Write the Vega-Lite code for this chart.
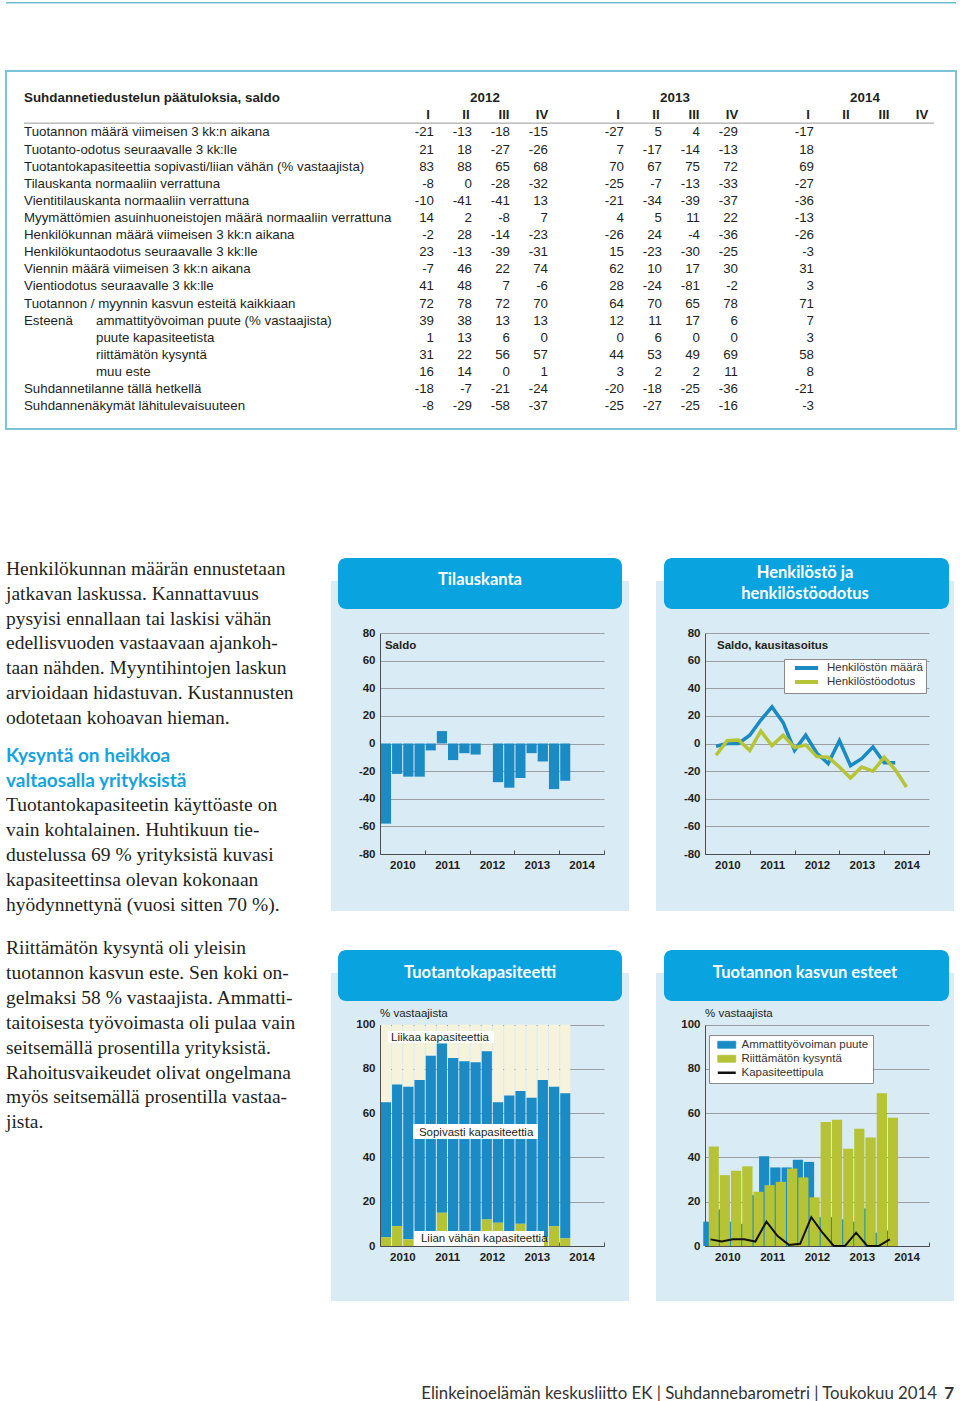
{
"$schema":"https://vega.github.io/schema/vega-lite/v6.json",
"background":"#ffffff",
"padding":{"left":5,"top":2,"right":0,"bottom":0},
"spacing":0,
"resolve":{"scale":{"color":"independent"},"legend":{"color":"independent"}},
"config":{"view":{"stroke":null},"font":"Liberation Sans","text":{"font":"Liberation Sans","color":"#231f20"},
 "axis":{"labelFont":"Liberation Sans","labelFontWeight":"bold","labelFontSize":11.5,"labelColor":"#231f20","domainColor":"#4d4d4d","tickColor":"#4d4d4d","gridColor":"#8c8c8c","gridWidth":0.8}},
"datasets":{
"tilaus":[{"d":"2010-01-01","saldo":-58},{"d":"2010-04-01","saldo":-22},{"d":"2010-07-01","saldo":-24},{"d":"2010-10-01","saldo":-24},{"d":"2011-01-01","saldo":-5},{"d":"2011-04-01","saldo":9},{"d":"2011-07-01","saldo":-12},{"d":"2011-10-01","saldo":-7},{"d":"2012-01-01","saldo":-8},{"d":"2012-04-01","saldo":0},{"d":"2012-07-01","saldo":-28},{"d":"2012-10-01","saldo":-32},{"d":"2013-01-01","saldo":-25},{"d":"2013-04-01","saldo":-7},{"d":"2013-07-01","saldo":-13},{"d":"2013-10-01","saldo":-33},{"d":"2014-01-01","saldo":-27}],
"henk":[{"d":"2010-01-01","s":"Henkilöstön määrä","v":-2},{"d":"2010-04-01","s":"Henkilöstön määrä","v":0},{"d":"2010-07-01","s":"Henkilöstön määrä","v":0},{"d":"2010-10-01","s":"Henkilöstön määrä","v":6},{"d":"2011-01-01","s":"Henkilöstön määrä","v":17},{"d":"2011-04-01","s":"Henkilöstön määrä","v":26.5},{"d":"2011-07-01","s":"Henkilöstön määrä","v":15},{"d":"2011-10-01","s":"Henkilöstön määrä","v":-5},{"d":"2012-01-01","s":"Henkilöstön määrä","v":6},{"d":"2012-04-01","s":"Henkilöstön määrä","v":-7},{"d":"2012-07-01","s":"Henkilöstön määrä","v":-14.5},{"d":"2012-10-01","s":"Henkilöstön määrä","v":2},{"d":"2013-01-01","s":"Henkilöstön määrä","v":-16},{"d":"2013-04-01","s":"Henkilöstön määrä","v":-11},{"d":"2013-07-01","s":"Henkilöstön määrä","v":-2.5},{"d":"2013-10-01","s":"Henkilöstön määrä","v":-14},{"d":"2014-01-01","s":"Henkilöstön määrä","v":-14},
{"d":"2010-01-01","s":"Henkilöstöodotus","v":-8.5},{"d":"2010-04-01","s":"Henkilöstöodotus","v":2},{"d":"2010-07-01","s":"Henkilöstöodotus","v":2.5},{"d":"2010-10-01","s":"Henkilöstöodotus","v":-5},{"d":"2011-01-01","s":"Henkilöstöodotus","v":9},{"d":"2011-04-01","s":"Henkilöstöodotus","v":-1.5},{"d":"2011-07-01","s":"Henkilöstöodotus","v":6},{"d":"2011-10-01","s":"Henkilöstöodotus","v":-3},{"d":"2012-01-01","s":"Henkilöstöodotus","v":-1},{"d":"2012-04-01","s":"Henkilöstöodotus","v":-9.5},{"d":"2012-07-01","s":"Henkilöstöodotus","v":-10},{"d":"2012-10-01","s":"Henkilöstöodotus","v":-17},{"d":"2013-01-01","s":"Henkilöstöodotus","v":-25},{"d":"2013-04-01","s":"Henkilöstöodotus","v":-17},{"d":"2013-07-01","s":"Henkilöstöodotus","v":-20},{"d":"2013-10-01","s":"Henkilöstöodotus","v":-10},{"d":"2014-01-01","s":"Henkilöstöodotus","v":-19},{"d":"2014-04-01","s":"Henkilöstöodotus","v":-31.5}],
"kap":[{"d":"2010-01-01","sop":65,"liian":4},{"d":"2010-04-01","sop":73,"liian":9},{"d":"2010-07-01","sop":72,"liian":3},{"d":"2010-10-01","sop":75,"liian":3},{"d":"2011-01-01","sop":86,"liian":3},{"d":"2011-04-01","sop":91.5,"liian":15},{"d":"2011-07-01","sop":85,"liian":3},{"d":"2011-10-01","sop":83.5,"liian":3},{"d":"2012-01-01","sop":83,"liian":4},{"d":"2012-04-01","sop":88,"liian":12},{"d":"2012-07-01","sop":65,"liian":10.5},{"d":"2012-10-01","sop":68,"liian":5},{"d":"2013-01-01","sop":70,"liian":10},{"d":"2013-04-01","sop":67,"liian":4},{"d":"2013-07-01","sop":75,"liian":4},{"d":"2013-10-01","sop":72,"liian":9},{"d":"2014-01-01","sop":69,"liian":3.5}],
"esteet":[{"d":"2010-01-01","puute":11,"kysynta":45,"kap":3},{"d":"2010-04-01","puute":16.5,"kysynta":32,"kap":2},{"d":"2010-07-01","puute":11,"kysynta":34,"kap":3},{"d":"2010-10-01","puute":10,"kysynta":36,"kap":3},{"d":"2011-01-01","puute":23,"kysynta":24.5,"kap":2},{"d":"2011-04-01","puute":40.5,"kysynta":27.5,"kap":11},{"d":"2011-07-01","puute":35.5,"kysynta":29,"kap":4.5},{"d":"2011-10-01","puute":35.5,"kysynta":35,"kap":0.5},{"d":"2012-01-01","puute":39,"kysynta":31,"kap":1},{"d":"2012-04-01","puute":38,"kysynta":22,"kap":13},{"d":"2012-07-01","puute":13,"kysynta":56,"kap":6},{"d":"2012-10-01","puute":13,"kysynta":57,"kap":0},{"d":"2013-01-01","puute":12,"kysynta":44,"kap":0},{"d":"2013-04-01","puute":11,"kysynta":53,"kap":6},{"d":"2013-07-01","puute":17,"kysynta":49,"kap":0},{"d":"2013-10-01","puute":6,"kysynta":69,"kap":0},{"d":"2014-01-01","puute":7,"kysynta":58,"kap":3}],
"taulu":[
{"r":0,"lev":0,"label":"Tuotannon määrä viimeisen 3 kk:n aikana","2012 I":-21,"2012 II":-13,"2012 III":-18,"2012 IV":-15,"2013 I":-27,"2013 II":5,"2013 III":4,"2013 IV":-29,"2014 I":-17},
{"r":1,"lev":0,"label":"Tuotanto-odotus seuraavalle 3 kk:lle","2012 I":21,"2012 II":18,"2012 III":-27,"2012 IV":-26,"2013 I":7,"2013 II":-17,"2013 III":-14,"2013 IV":-13,"2014 I":18},
{"r":2,"lev":0,"label":"Tuotantokapasiteettia sopivasti/liian vähän (% vastaajista)","2012 I":83,"2012 II":88,"2012 III":65,"2012 IV":68,"2013 I":70,"2013 II":67,"2013 III":75,"2013 IV":72,"2014 I":69},
{"r":3,"lev":0,"label":"Tilauskanta normaaliin verrattuna","2012 I":-8,"2012 II":0,"2012 III":-28,"2012 IV":-32,"2013 I":-25,"2013 II":-7,"2013 III":-13,"2013 IV":-33,"2014 I":-27},
{"r":4,"lev":0,"label":"Vientitilauskanta normaaliin verrattuna","2012 I":-10,"2012 II":-41,"2012 III":-41,"2012 IV":13,"2013 I":-21,"2013 II":-34,"2013 III":-39,"2013 IV":-37,"2014 I":-36},
{"r":5,"lev":0,"label":"Myymättömien asuinhuoneistojen määrä normaaliin verrattuna","2012 I":14,"2012 II":2,"2012 III":-8,"2012 IV":7,"2013 I":4,"2013 II":5,"2013 III":11,"2013 IV":22,"2014 I":-13},
{"r":6,"lev":0,"label":"Henkilökunnan määrä viimeisen 3 kk:n aikana","2012 I":-2,"2012 II":28,"2012 III":-14,"2012 IV":-23,"2013 I":-26,"2013 II":24,"2013 III":-4,"2013 IV":-36,"2014 I":-26},
{"r":7,"lev":0,"label":"Henkilökuntaodotus seuraavalle 3 kk:lle","2012 I":23,"2012 II":-13,"2012 III":-39,"2012 IV":-31,"2013 I":15,"2013 II":-23,"2013 III":-30,"2013 IV":-25,"2014 I":-3},
{"r":8,"lev":0,"label":"Viennin määrä viimeisen 3 kk:n aikana","2012 I":-7,"2012 II":46,"2012 III":22,"2012 IV":74,"2013 I":62,"2013 II":10,"2013 III":17,"2013 IV":30,"2014 I":31},
{"r":9,"lev":0,"label":"Vientiodotus seuraavalle 3 kk:lle","2012 I":41,"2012 II":48,"2012 III":7,"2012 IV":-6,"2013 I":28,"2013 II":-24,"2013 III":-81,"2013 IV":-2,"2014 I":3},
{"r":10,"lev":0,"label":"Tuotannon / myynnin kasvun esteitä kaikkiaan","2012 I":72,"2012 II":78,"2012 III":72,"2012 IV":70,"2013 I":64,"2013 II":70,"2013 III":65,"2013 IV":78,"2014 I":71},
{"r":11,"lev":1,"pre":"Esteenä","label":"ammattityövoiman puute (% vastaajista)","2012 I":39,"2012 II":38,"2012 III":13,"2012 IV":13,"2013 I":12,"2013 II":11,"2013 III":17,"2013 IV":6,"2014 I":7},
{"r":12,"lev":1,"label":"puute kapasiteetista","2012 I":1,"2012 II":13,"2012 III":6,"2012 IV":0,"2013 I":0,"2013 II":6,"2013 III":0,"2013 IV":0,"2014 I":3},
{"r":13,"lev":1,"label":"riittämätön kysyntä","2012 I":31,"2012 II":22,"2012 III":56,"2012 IV":57,"2013 I":44,"2013 II":53,"2013 III":49,"2013 IV":69,"2014 I":58},
{"r":14,"lev":1,"label":"muu este","2012 I":16,"2012 II":14,"2012 III":0,"2012 IV":1,"2013 I":3,"2013 II":2,"2013 III":2,"2013 IV":11,"2014 I":8},
{"r":15,"lev":0,"label":"Suhdannetilanne tällä hetkellä","2012 I":-18,"2012 II":-7,"2012 III":-21,"2012 IV":-24,"2013 I":-20,"2013 II":-18,"2013 III":-25,"2013 IV":-36,"2014 I":-21},
{"r":16,"lev":0,"label":"Suhdannenäkymät lähitulevaisuuteen","2012 I":-8,"2012 II":-29,"2012 III":-58,"2012 IV":-37,"2013 I":-25,"2013 II":-27,"2013 III":-25,"2013 IV":-16,"2014 I":-3}],
"sarakkeet":[{"c":"2012 I","yr":"2012","q":"I"},{"c":"2012 II","yr":"2012","q":"II"},{"c":"2012 III","yr":"2012","q":"III"},{"c":"2012 IV","yr":"2012","q":"IV"},{"c":"2013 I","yr":"2013","q":"I"},{"c":"2013 II","yr":"2013","q":"II"},{"c":"2013 III","yr":"2013","q":"III"},{"c":"2013 IV","yr":"2013","q":"IV"},{"c":"2014 I","yr":"2014","q":"I"},{"c":"2014 II","yr":"2014","q":"II"},{"c":"2014 III","yr":"2014","q":"III"},{"c":"2014 IV","yr":"2014","q":"IV"}],
"p1":[{"n":0,"t":"Henkilökunnan määrän ennustetaan"},{"n":1,"t":"jatkavan laskussa. Kannattavuus"},{"n":2,"t":"pysyisi ennallaan tai laskisi vähän"},{"n":3,"t":"edellisvuoden vastaavaan ajankoh-"},{"n":4,"t":"taan nähden. Myyntihintojen laskun"},{"n":5,"t":"arvioidaan hidastuvan. Kustannusten"},{"n":6,"t":"odotetaan kohoavan hieman."}],
"p2":[{"n":0,"h":1,"t":"Kysyntä on heikkoa"},{"n":1,"h":1,"t":"valtaosalla yrityksistä"},{"n":2,"h":0,"t":"Tuotantokapasiteetin käyttöaste on"},{"n":3,"h":0,"t":"vain kohtalainen. Huhtikuun tie-"},{"n":4,"h":0,"t":"dustelussa 69 % yrityksistä kuvasi"},{"n":5,"h":0,"t":"kapasiteettinsa olevan kokonaan"},{"n":6,"h":0,"t":"hyödynnettynä (vuosi sitten 70 %)."}],
"p3":[{"n":0,"t":"Riittämätön kysyntä oli yleisin"},{"n":1,"t":"tuotannon kasvun este. Sen koki on-"},{"n":2,"t":"gelmaksi 58 % vastaajista. Ammatti-"},{"n":3,"t":"taitoisesta työvoimasta oli pulaa vain"},{"n":4,"t":"seitsemällä prosentilla yrityksistä."},{"n":5,"t":"Rahoitusvaikeudet olivat ongelmana"},{"n":6,"t":"myös seitsemällä prosentilla vastaa-"},{"n":7,"t":"jista."}]
},
"vconcat":[
{"width":950,"height":1.5,"view":{"fill":"#6dbfcf","stroke":null},"data":{"values":[{}]},"mark":{"type":"text","text":"","fontSize":0}},
{"width":950,"height":65.5,"data":{"values":[{}]},"mark":{"type":"text","text":"","fontSize":0}},
{"width":950,"height":358,"view":{"stroke":"#7cc3d9","strokeWidth":2,"fill":null},
 "resolve":{"scale":{"x":"independent"}},
 "layer":[
  {"data":{"values":[{"t":"Suhdannetiedustelun päätuloksia, saldo"}]},
   "mark":{"type":"text","align":"left","baseline":"alphabetic","fontWeight":"bold","fontSize":13.4},
   "encoding":{"x":{"datum":0,"type":"quantitative","scale":{"domain":[0,1],"range":[18,90]},"axis":null},
     "y":{"datum":-2,"type":"quantitative","scale":{"domain":[-2,16],"range":[31.25,339.25],"nice":false,"zero":false},"axis":null},
     "text":{"field":"t"}}},
  {"data":{"name":"sarakkeet"},
   "mark":{"type":"text","align":"center","baseline":"alphabetic","fontWeight":"bold","fontSize":13.2,"dx":-6},
   "encoding":{"x":{"field":"c","type":"ordinal","scale":{"type":"point","domain":["2012 I","2012 II","2012 III","2012 IV","g1","2013 I","2013 II","2013 III","2013 IV","g2","2014 I","2014 II","2014 III","2014 IV"],"range":[428,922],"padding":0},"axis":null},
     "y":{"datum":-1,"type":"quantitative","axis":null},"text":{"field":"q"}}},
  {"data":{"name":"sarakkeet"},"transform":[{"filter":"datum.q == 'II'"}],
   "mark":{"type":"text","align":"center","baseline":"alphabetic","fontWeight":"bold","fontSize":13.4,"dx":13},
   "encoding":{"x":{"field":"c","type":"ordinal","scale":{"type":"point","domain":["2012 I","2012 II","2012 III","2012 IV","g1","2013 I","2013 II","2013 III","2013 IV","g2","2014 I","2014 II","2014 III","2014 IV"],"range":[428,922],"padding":0},"axis":null},
     "y":{"datum":-2,"type":"quantitative","axis":null},"text":{"field":"yr"}}},
  {"data":{"values":[{}]},
   "mark":{"type":"rule","color":"#9a9a9a","strokeWidth":1},
   "encoding":{"x":{"datum":0,"type":"quantitative","scale":{"domain":[0,1],"range":[18,928]},"axis":null},"x2":{"datum":1},
     "y":{"datum":-0.78,"type":"quantitative","axis":null}}},
  {"data":{"name":"taulu"},
   "mark":{"type":"text","align":"left","baseline":"alphabetic","fontSize":13.3},
   "encoding":{"x":{"field":"lev","type":"quantitative","scale":{"domain":[0,1],"range":[18,90]},"axis":null},
     "y":{"field":"r","type":"quantitative","axis":null},"text":{"field":"label"}}},
  {"data":{"name":"taulu"},"transform":[{"filter":"isValid(datum.pre)"}],
   "mark":{"type":"text","align":"left","baseline":"alphabetic","fontSize":13.3},
   "encoding":{"x":{"datum":0,"type":"quantitative","scale":{"domain":[0,1],"range":[18,90]},"axis":null},
     "y":{"field":"r","type":"quantitative","axis":null},"text":{"field":"pre"}}},
  {"data":{"name":"taulu"},"transform":[{"fold":["2012 I","2012 II","2012 III","2012 IV","2013 I","2013 II","2013 III","2013 IV","2014 I"],"as":["c","v"]}],
   "mark":{"type":"text","align":"right","baseline":"alphabetic","fontSize":13.3},
   "encoding":{"x":{"field":"c","type":"ordinal","scale":{"type":"point","domain":["2012 I","2012 II","2012 III","2012 IV","g1","2013 I","2013 II","2013 III","2013 IV","g2","2014 I","2014 II","2014 III","2014 IV"],"range":[428,922],"padding":0},"axis":null},
     "y":{"field":"r","type":"quantitative","axis":null},"text":{"field":"v","type":"nominal"}}}
 ]},
{"width":950,"height":128,"data":{"values":[{}]},"mark":{"type":"text","text":"","fontSize":0}},
{"hconcat":[
  {"vconcat":[
    {"width":300,"height":186,"data":{"name":"p1"},
     "mark":{"type":"text","align":"left","baseline":"alphabetic","font":"Liberation Serif","fontSize":19.5,"color":"#231f20"},
     "encoding":{"x":{"datum":0,"type":"quantitative","scale":{"domain":[0,1],"range":[0,300]},"axis":null},
       "y":{"field":"n","type":"quantitative","scale":{"domain":[0,6],"range":[17,165.8],"nice":false,"zero":false},"axis":null},
       "text":{"field":"t"}}},
    {"width":300,"height":192,"data":{"name":"p2"},
     "layer":[
      {"transform":[{"filter":"datum.h == 1"}],
       "mark":{"type":"text","align":"left","baseline":"alphabetic","font":"Lato","fontWeight":"bold","fontSize":19,"color":"#17a3dd"},
       "encoding":{"x":{"datum":0,"type":"quantitative","scale":{"domain":[0,1],"range":[0,300]},"axis":null},
         "y":{"field":"n","type":"quantitative","scale":{"domain":[0,6],"range":[17.7,166.5],"nice":false,"zero":false},"axis":null},
         "text":{"field":"t"}}},
      {"transform":[{"filter":"datum.h == 0"}],
       "mark":{"type":"text","align":"left","baseline":"alphabetic","font":"Liberation Serif","fontSize":19.5,"color":"#231f20"},
       "encoding":{"x":{"datum":0,"type":"quantitative","axis":null},
         "y":{"field":"n","type":"quantitative","axis":null},
         "text":{"field":"t"}}}
     ]},
    {"width":300,"height":200,"data":{"name":"p3"},
     "mark":{"type":"text","align":"left","baseline":"alphabetic","font":"Liberation Serif","fontSize":19.5,"color":"#231f20"},
     "encoding":{"x":{"datum":0,"type":"quantitative","scale":{"domain":[0,1],"range":[0,300]},"axis":null},
       "y":{"field":"n","type":"quantitative","scale":{"domain":[0,7],"range":[18,192.3],"nice":false,"zero":false},"axis":null},
       "text":{"field":"t"}}}
  ],"spacing":0},
  {"vconcat":[
   {"hconcat":[
    {"vconcat":[
      {"width":298,"height":51,"data":{"values":[{"t":"Tilauskanta"}]},
       "layer":[
        {"mark":{"type":"rect","color":"#d9ebf4"},
         "encoding":{"x":{"datum":0,"type":"quantitative","scale":{"domain":[0,1],"range":[0,298]},"axis":null},"x2":{"datum":1},
           "y":{"datum":0,"type":"quantitative","scale":{"domain":[0,1],"range":[51,0]},"axis":null},"y2":{"datum":0.55}}},
        {"mark":{"type":"rect","color":"#09a3df","cornerRadius":8},
         "encoding":{"x":{"datum":0.0235,"type":"quantitative","axis":null},"x2":{"datum":0.9765},"y":{"datum":0,"type":"quantitative","axis":null},"y2":{"datum":1}}},
        {"mark":{"type":"text","font":"Lato","fontWeight":"bold","fontSize":16.5,"color":"#ffffff","align":"center","baseline":"alphabetic","dy":1},
         "encoding":{"text":{"field":"t"}}}
       ]},
      {"width":298,"height":302,"view":{"fill":"#d9ebf4","stroke":null},
       "resolve":{"axis":{"x":"independent","y":"independent"}},
       "layer":[
        {"data":{"name":"tilaus"},
         "mark":{"type":"bar","color":"#1b8bc5","timeUnitBandSize":0.84},
         "encoding":{
          "x":{"field":"d","timeUnit":"utcyearquarter","type":"temporal","title":null,
            "scale":{"type":"utc","domain":[{"year":2010,"month":1,"date":1,"utc":true},{"year":2015,"month":1,"date":1,"utc":true}],"range":[49,273],"nice":false},
            "axis":{"values":[{"year":2010,"month":1,"date":1,"utc":true},{"year":2011,"month":1,"date":1,"utc":true},{"year":2012,"month":1,"date":1,"utc":true},{"year":2013,"month":1,"date":1,"utc":true},{"year":2014,"month":1,"date":1,"utc":true},{"year":2015,"month":1,"date":1,"utc":true}],
              "offset":-57,"tickSize":-4,"labelPadding":9,"labelOffset":22.4,"labelExpr":"utcyear(datum.value) < 2015 ? '' + utcyear(datum.value) : ''","labelFlush":false,"labelOverlap":false,"labelAngle":0,"grid":false,"title":null}},
          "y":{"field":"saldo","type":"quantitative","title":null,
            "scale":{"domain":[-80,80],"range":[245,24],"nice":false,"zero":false},
            "axis":{"values":[-80,-60,-40,-20,0,20,40,60,80],"offset":-49,"ticks":false,"labelPadding":5,"labelExpr":"'' + datum.value","labelOverlap":false,"grid":true,"title":null}}}},
        {"data":{"values":[{"t":"Saldo"}]},
         "mark":{"type":"text","align":"left","baseline":"alphabetic","fontWeight":"bold","fontSize":11.5},
         "encoding":{"x":{"datum":{"year":2010,"month":2,"date":10,"utc":true},"type":"temporal","axis":null},"y":{"datum":68.4,"type":"quantitative","axis":null},"text":{"field":"t"}}}
       ]}
    ],"spacing":0},
    {"vconcat":[
      {"width":298,"height":51,"data":{"values":[{"t":"x"}]},
       "layer":[
        {"mark":{"type":"rect","color":"#d9ebf4"},
         "encoding":{"x":{"datum":0,"type":"quantitative","scale":{"domain":[0,1],"range":[0,298]},"axis":null},"x2":{"datum":1},
           "y":{"datum":0,"type":"quantitative","scale":{"domain":[0,1],"range":[51,0]},"axis":null},"y2":{"datum":0.55}}},
        {"mark":{"type":"rect","color":"#09a3df","cornerRadius":8},
         "encoding":{"x":{"datum":0.0268,"type":"quantitative","axis":null},"x2":{"datum":0.9832},"y":{"datum":0,"type":"quantitative","axis":null},"y2":{"datum":1}}},
        {"mark":{"type":"text","text":["Henkilöstö ja","henkilöstöodotus"],"lineHeight":21,"font":"Lato","fontWeight":"bold","fontSize":16.5,"color":"#ffffff","align":"center","baseline":"alphabetic","dy":-5.5},
         "encoding":{}}
       ]},
      {"width":298,"height":302,"view":{"fill":"#d9ebf4","stroke":null},
       "resolve":{"axis":{"x":"independent","y":"independent"}},
       "layer":[
        {"data":{"name":"henk"},
         "mark":{"type":"line","strokeWidth":3.5,"strokeJoin":"miter","strokeCap":"butt"},
         "encoding":{
          "x":{"field":"d","timeUnit":"utcyearquarter","type":"temporal","bandPosition":1,"title":null,
            "scale":{"type":"utc","domain":[{"year":2010,"month":1,"date":1,"utc":true},{"year":2015,"month":1,"date":1,"utc":true}],"range":[49,273],"nice":false},
            "axis":{"values":[{"year":2010,"month":1,"date":1,"utc":true},{"year":2011,"month":1,"date":1,"utc":true},{"year":2012,"month":1,"date":1,"utc":true},{"year":2013,"month":1,"date":1,"utc":true},{"year":2014,"month":1,"date":1,"utc":true},{"year":2015,"month":1,"date":1,"utc":true}],
              "offset":-57,"tickSize":-4,"labelPadding":9,"labelOffset":22.4,"labelExpr":"utcyear(datum.value) < 2015 ? '' + utcyear(datum.value) : ''","labelFlush":false,"labelOverlap":false,"labelAngle":0,"grid":false,"title":null}},
          "y":{"field":"v","type":"quantitative","title":null,
            "scale":{"domain":[-80,80],"range":[245,24],"nice":false,"zero":false},
            "axis":{"values":[-80,-60,-40,-20,0,20,40,60,80],"offset":-49,"ticks":false,"labelPadding":5,"labelExpr":"'' + datum.value","labelOverlap":false,"grid":true,"title":null}},
          "color":{"field":"s","type":"nominal","scale":{"domain":["Henkilöstön määrä","Henkilöstöodotus"],"range":["#1a8ac3","#b6c435"]},
            "legend":{"orient":"none","legendX":128,"legendY":50,"title":null,"fillColor":"#ffffff","strokeColor":"#8a8a8a","padding":3,"rowPadding":-2,
              "symbolType":"M-2.9,0H2.9","symbolSize":64,"symbolStrokeWidth":4,"symbolOffset":13.5,"labelOffset":14.5,
              "labelFont":"Liberation Sans","labelFontSize":11.5,"labelColor":"#333333"}}}},
        {"data":{"values":[{"t":"Saldo, kausitasoitus"}]},
         "mark":{"type":"text","align":"left","baseline":"alphabetic","fontWeight":"bold","fontSize":11.5},
         "encoding":{"x":{"datum":{"year":2010,"month":4,"date":9,"utc":true},"type":"temporal","axis":null},"y":{"datum":68.4,"type":"quantitative","axis":null},"text":{"field":"t"}}}
       ]}
    ],"spacing":0,"resolve":{"scale":{"color":"independent"}}}
   ],"spacing":27,"resolve":{"scale":{"color":"independent"},"legend":{"color":"independent"}}},
   {"hconcat":[
    {"vconcat":[
      {"width":298,"height":51,"data":{"values":[{"t":"Tuotantokapasiteetti"}]},
       "layer":[
        {"mark":{"type":"rect","color":"#d9ebf4"},
         "encoding":{"x":{"datum":0,"type":"quantitative","scale":{"domain":[0,1],"range":[0,298]},"axis":null},"x2":{"datum":1},
           "y":{"datum":0,"type":"quantitative","scale":{"domain":[0,1],"range":[51,0]},"axis":null},"y2":{"datum":0.55}}},
        {"mark":{"type":"rect","color":"#09a3df","cornerRadius":8},
         "encoding":{"x":{"datum":0.0235,"type":"quantitative","axis":null},"x2":{"datum":0.9765},"y":{"datum":0,"type":"quantitative","axis":null},"y2":{"datum":1}}},
        {"mark":{"type":"text","font":"Lato","fontWeight":"bold","fontSize":16.5,"color":"#ffffff","align":"center","baseline":"alphabetic","dy":2},
         "encoding":{"text":{"field":"t"}}}
       ]},
      {"width":298,"height":300,"view":{"fill":"#d9ebf4","stroke":null},
       "resolve":{"axis":{"x":"independent","y":"independent"}},
       "layer":[
        {"data":{"name":"kap"},
         "mark":{"type":"bar","color":"#f5f3dc","timeUnitBandSize":0.84},
         "encoding":{
          "x":{"field":"d","timeUnit":"utcyearquarter","type":"temporal","title":null,
            "scale":{"type":"utc","domain":[{"year":2010,"month":1,"date":1,"utc":true},{"year":2015,"month":1,"date":1,"utc":true}],"range":[49,273],"nice":false},
            "axis":{"values":[{"year":2010,"month":1,"date":1,"utc":true},{"year":2011,"month":1,"date":1,"utc":true},{"year":2012,"month":1,"date":1,"utc":true},{"year":2013,"month":1,"date":1,"utc":true},{"year":2014,"month":1,"date":1,"utc":true},{"year":2015,"month":1,"date":1,"utc":true}],
              "offset":-55,"tickSize":-4,"labelPadding":9,"labelOffset":22.4,"labelExpr":"utcyear(datum.value) < 2015 ? '' + utcyear(datum.value) : ''","labelFlush":false,"labelOverlap":false,"labelAngle":0,"grid":false,"title":null}},
          "y":{"field":"sop","type":"quantitative","title":null,
            "scale":{"domain":[0,100],"range":[245,23.7],"nice":false,"zero":false},
            "axis":{"values":[0,20,40,60,80,100],"offset":-49,"ticks":false,"labelPadding":5,"labelExpr":"'' + datum.value","labelOverlap":false,"grid":true,"title":null}},
          "y2":{"datum":100}}},
        {"data":{"name":"kap"},
         "mark":{"type":"bar","color":"#1b8bc5","timeUnitBandSize":0.84},
         "encoding":{"x":{"field":"d","timeUnit":"utcyearquarter","type":"temporal","axis":null},"y":{"field":"sop","type":"quantitative","axis":null},"y2":{"field":"liian"}}},
        {"data":{"name":"kap"},
         "mark":{"type":"bar","color":"#b5c334","timeUnitBandSize":0.84},
         "encoding":{"x":{"field":"d","timeUnit":"utcyearquarter","type":"temporal","axis":null},"y":{"field":"liian","type":"quantitative","axis":null}}},
        {"data":{"values":[{}]},"mark":{"type":"rect","color":"#ffffff"},
         "encoding":{"x":{"datum":{"year":2010,"month":3,"date":7,"utc":true},"type":"temporal","axis":null},"x2":{"datum":{"year":2012,"month":7,"date":18,"utc":true}},"y":{"datum":91.7,"type":"quantitative","axis":null},"y2":{"datum":97.2}}},
        {"data":{"values":[{}]},"mark":{"type":"rect","color":"#ffffff"},
         "encoding":{"x":{"datum":{"year":2010,"month":9,"date":27,"utc":true},"type":"temporal","axis":null},"x2":{"datum":{"year":2013,"month":7,"date":12,"utc":true}},"y":{"datum":48.4,"type":"quantitative","axis":null},"y2":{"datum":55.1}}},
        {"data":{"values":[{}]},"mark":{"type":"rect","color":"#ffffff"},
         "encoding":{"x":{"datum":{"year":2010,"month":10,"date":5,"utc":true},"type":"temporal","axis":null},"x2":{"datum":{"year":2013,"month":8,"date":30,"utc":true}},"y":{"datum":0,"type":"quantitative","axis":null},"y2":{"datum":6.8}}},
        {"data":{"values":[{"t":"Liikaa kapasiteettia"}]},"mark":{"type":"text","align":"left","baseline":"alphabetic","fontSize":11.5},
         "encoding":{"x":{"datum":{"year":2010,"month":4,"date":1,"utc":true},"type":"temporal","axis":null},"y":{"datum":92.6,"type":"quantitative","axis":null},"text":{"field":"t"}}},
        {"data":{"values":[{"t":"Sopivasti kapasiteettia"}]},"mark":{"type":"text","align":"left","baseline":"alphabetic","fontSize":11.5},
         "encoding":{"x":{"datum":{"year":2010,"month":11,"date":14,"utc":true},"type":"temporal","axis":null},"y":{"datum":49.7,"type":"quantitative","axis":null},"text":{"field":"t"}}},
        {"data":{"values":[{"t":"Liian vähän kapasiteettia"}]},"mark":{"type":"text","align":"left","baseline":"alphabetic","fontSize":11.5},
         "encoding":{"x":{"datum":{"year":2010,"month":12,"date":1,"utc":true},"type":"temporal","axis":null},"y":{"datum":1.8,"type":"quantitative","axis":null},"text":{"field":"t"}}},
        {"data":{"values":[{"t":"% vastaajista"}]},"mark":{"type":"text","align":"left","baseline":"alphabetic","fontSize":11.5},
         "encoding":{"x":{"datum":{"year":2010,"month":1,"date":1,"utc":true},"type":"temporal","axis":null},"y":{"datum":103.3,"type":"quantitative","axis":null},"text":{"field":"t"}}}
       ]}
    ],"spacing":0},
    {"vconcat":[
      {"width":298,"height":51,"data":{"values":[{"t":"Tuotannon kasvun esteet"}]},
       "layer":[
        {"mark":{"type":"rect","color":"#d9ebf4"},
         "encoding":{"x":{"datum":0,"type":"quantitative","scale":{"domain":[0,1],"range":[0,298]},"axis":null},"x2":{"datum":1},
           "y":{"datum":0,"type":"quantitative","scale":{"domain":[0,1],"range":[51,0]},"axis":null},"y2":{"datum":0.55}}},
        {"mark":{"type":"rect","color":"#09a3df","cornerRadius":8},
         "encoding":{"x":{"datum":0.0268,"type":"quantitative","axis":null},"x2":{"datum":0.9832},"y":{"datum":0,"type":"quantitative","axis":null},"y2":{"datum":1}}},
        {"mark":{"type":"text","font":"Lato","fontWeight":"bold","fontSize":16.5,"color":"#ffffff","align":"center","baseline":"alphabetic","dy":2},
         "encoding":{"text":{"field":"t"}}}
       ]},
      {"width":298,"height":300,"view":{"fill":"#d9ebf4","stroke":null},
       "resolve":{"axis":{"x":"independent","y":"independent"}},
       "layer":[
        {"data":{"name":"esteet"},
         "mark":{"type":"bar","timeUnitBandSize":0.48,"xOffset":-2.75},
         "encoding":{
          "x":{"field":"d","timeUnit":"utcyearquarter","type":"temporal","title":null,
            "scale":{"type":"utc","domain":[{"year":2010,"month":1,"date":1,"utc":true},{"year":2015,"month":1,"date":1,"utc":true}],"range":[49,273],"nice":false},
            "axis":{"values":[{"year":2010,"month":1,"date":1,"utc":true},{"year":2011,"month":1,"date":1,"utc":true},{"year":2012,"month":1,"date":1,"utc":true},{"year":2013,"month":1,"date":1,"utc":true},{"year":2014,"month":1,"date":1,"utc":true},{"year":2015,"month":1,"date":1,"utc":true}],
              "offset":-55,"tickSize":-4,"labelPadding":9,"labelOffset":22.4,"labelExpr":"utcyear(datum.value) < 2015 ? '' + utcyear(datum.value) : ''","labelFlush":false,"labelOverlap":false,"labelAngle":0,"grid":false,"title":null}},
          "y":{"field":"puute","type":"quantitative","title":null,"stack":null,
            "scale":{"domain":[0,100],"range":[245,23.7],"nice":false,"zero":false},
            "axis":{"values":[0,20,40,60,80,100],"offset":-49,"ticks":false,"labelPadding":5,"labelExpr":"'' + datum.value","labelOverlap":false,"grid":true,"title":null}},
          "color":{"datum":"Ammattityövoiman puute","type":"nominal",
            "scale":{"domain":["Ammattityövoiman puute","Riittämätön kysyntä","Kapasiteettipula"],"range":["#1b8bc5","#b5c334","#111111"]},
            "legend":{"orient":"none","legendX":53,"legendY":34,"title":null,"fillColor":"#ffffff","strokeColor":"#8a8a8a","padding":4,"rowPadding":1,
              "symbolSize":144,"symbolOffset":8,"labelOffset":9,"labelFont":"Liberation Sans","labelFontSize":11.5,"labelColor":"#333333",
              "encode":{"symbols":{"update":{
                "shape":{"signal":"datum.label == 'Kapasiteettipula' ? 'M-1.5,0H1.5' : 'M-1.5,-0.58H1.5V0.58H-1.5Z'"},
                "fill":{"signal":"datum.label == 'Kapasiteettipula' ? 'transparent' : (datum.label == 'Ammattityövoiman puute' ? '#1b8bc5' : '#b5c334')"},
                "stroke":{"signal":"datum.label == 'Kapasiteettipula' ? '#111111' : '#3d5560'"},
                "strokeWidth":{"signal":"datum.label == 'Kapasiteettipula' ? 2.5 : 0.8"},
                "opacity":{"value":1},"fillOpacity":{"value":1},"strokeOpacity":{"value":1}}}}}}}},
        {"data":{"name":"esteet"},
         "mark":{"type":"bar","timeUnitBandSize":0.48,"xOffset":2.75},
         "encoding":{"x":{"field":"d","timeUnit":"utcyearquarter","type":"temporal","axis":null},"y":{"field":"kysynta","type":"quantitative","stack":null,"axis":null},"color":{"datum":"Riittämätön kysyntä","type":"nominal"}}},
        {"data":{"name":"esteet"},
         "mark":{"type":"line","strokeWidth":2,"strokeJoin":"miter"},
         "encoding":{"x":{"field":"d","timeUnit":"utcyearquarter","type":"temporal","bandPosition":0.5,"axis":null},"y":{"field":"kap","type":"quantitative","axis":null},"color":{"datum":"Kapasiteettipula","type":"nominal"}}},
        {"data":{"values":[{"t":"% vastaajista"}]},"mark":{"type":"text","align":"left","baseline":"alphabetic","fontSize":11.5},
         "encoding":{"x":{"datum":{"year":2010,"month":1,"date":1,"utc":true},"type":"temporal","axis":null},"y":{"datum":103.3,"type":"quantitative","axis":null},"text":{"field":"t"}}}
       ]}
    ],"spacing":0,"resolve":{"scale":{"color":"independent"}}}
   ],"spacing":27,"resolve":{"scale":{"color":"independent"},"legend":{"color":"independent"}}}
  ],"spacing":39,"resolve":{"scale":{"color":"independent"},"legend":{"color":"independent"}}}
 ],"spacing":25,"resolve":{"scale":{"color":"independent"},"legend":{"color":"independent"}}},
{"width":950,"height":98,
 "layer":[
  {"data":{"values":[{"t":"Elinkeinoelämän keskusliitto EK  |  Suhdannebarometri  |  Toukokuu 2014"}]},
   "mark":{"type":"text","align":"right","baseline":"alphabetic","font":"Lato","fontSize":16.8,"color":"#333333","dx":-19},
   "encoding":{"x":{"datum":1,"type":"quantitative","scale":{"domain":[0,1],"range":[0,950]},"axis":null},
     "y":{"datum":0,"type":"quantitative","scale":{"domain":[0,1],"range":[98,0]},"axis":null},"text":{"field":"t"}}},
  {"data":{"values":[{"t":"7"}]},
   "mark":{"type":"text","align":"right","baseline":"alphabetic","font":"Lato","fontWeight":"bold","fontSize":17,"color":"#333333","dx":-2},
   "encoding":{"x":{"datum":1,"type":"quantitative","axis":null},"y":{"datum":0,"type":"quantitative","axis":null},"text":{"field":"t"}}}
 ]}
]
}
